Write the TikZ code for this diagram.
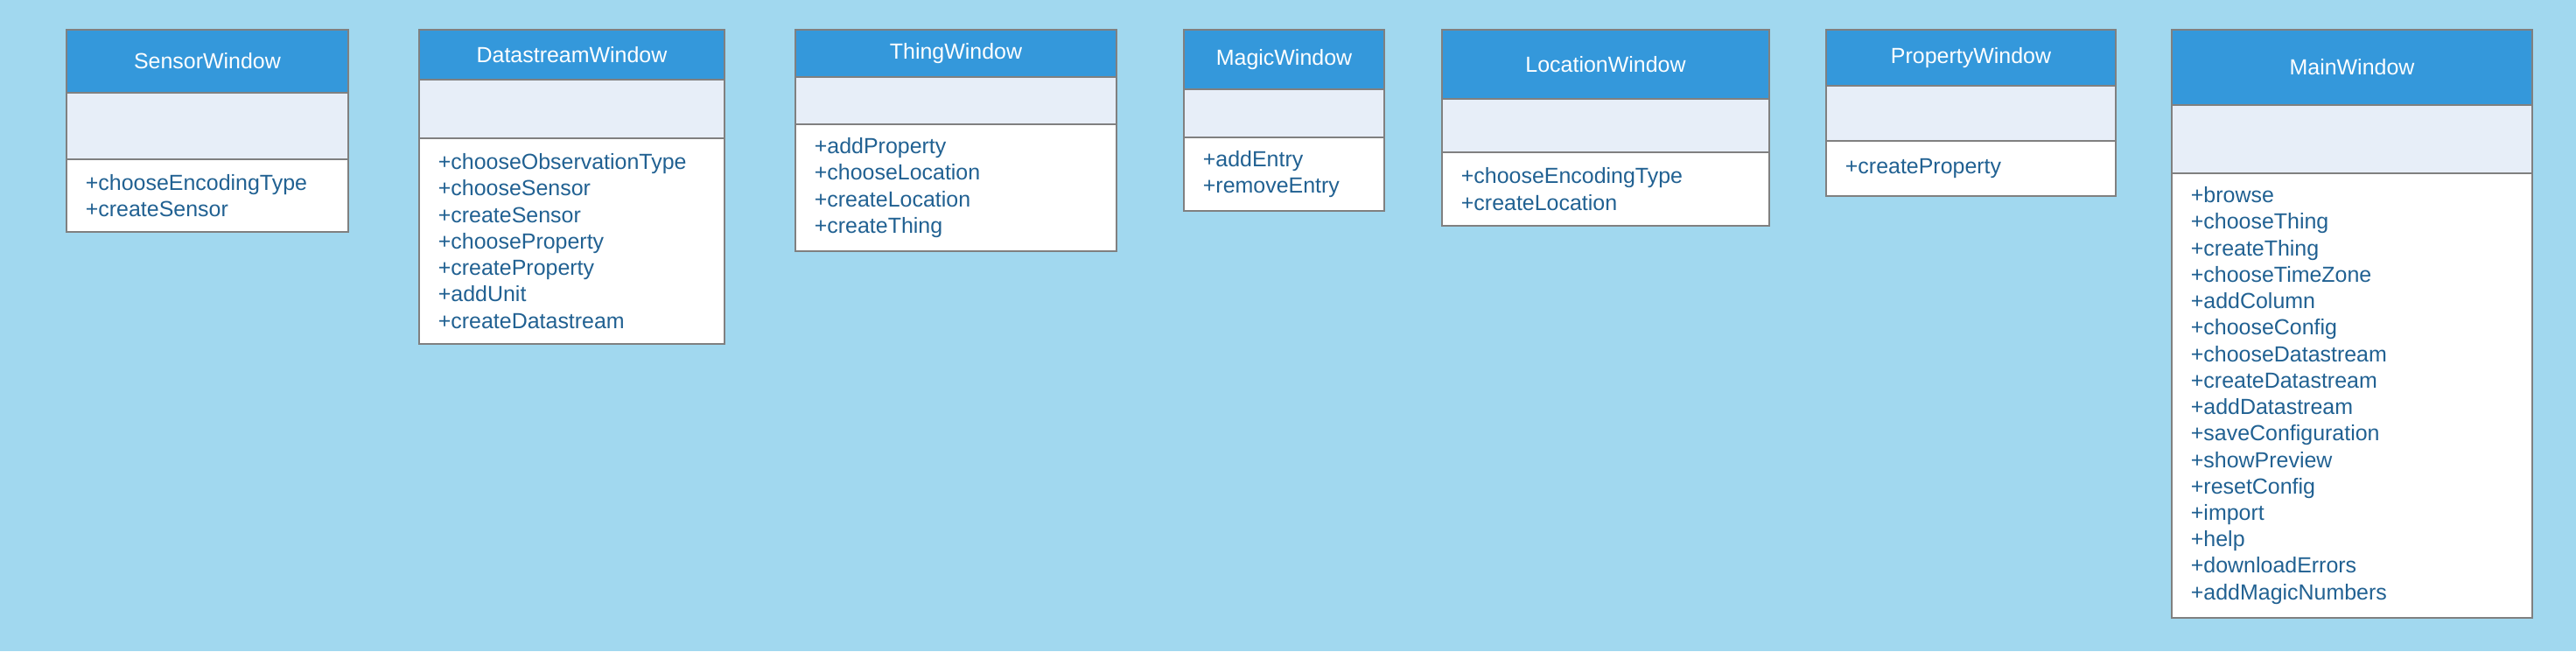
\documentclass[tikz,border=0pt]{standalone}
\usepackage{fontspec}
\setmainfont{Liberation Sans}

\definecolor{bgblue}{RGB}{161,216,239}
\definecolor{headblue}{RGB}{52,152,219}
\definecolor{attrblue}{RGB}{231,238,248}
\definecolor{boxgray}{RGB}{128,128,128}
\definecolor{opsblue}{RGB}{33,97,146}

\begin{document}
\begin{tikzpicture}[
        classhead/.style={draw=boxgray, line width=0.5pt, fill=headblue},
        classattr/.style={draw=boxgray, line width=0.5pt, fill=attrblue},
        classops/.style={draw=boxgray, line width=0.5pt, fill=white},
        classname/.style={text=white, font=\fontsize{7.1}{8.6}\selectfont},
        opslist/.style={anchor=west, align=left, inner sep=0pt, text=opsblue, font=\fontsize{7.1}{8.6}\selectfont}]
        % background
        \fill[bgblue] (0,0) rectangle (29.44,7.44);
        % sensor window
        \draw[classhead] (0.76,6.38) rectangle ++(3.22,0.72) node [midway, classname] (sensorname) {SensorWindow};
        \draw[classattr] (0.76,5.62) rectangle ++(3.22,0.76);
        \draw[classops] (0.76,4.79) rectangle ++(3.22,0.83)
            node [opslist] (sensorops) at (0.97,5.205) {+chooseEncodingType\\+createSensor};
        % datastream window
        \draw[classhead] (4.79,6.53) rectangle ++(3.49,0.57) node [midway, classname] (streamname) {DatastreamWindow};
        \draw[classattr] (4.79,5.86) rectangle ++(3.49,0.67);
        \draw[classops] (4.79,3.51) rectangle ++(3.49,2.35)
            node [opslist] (streamops) at (5.00,4.685) {+chooseObservationType\\+chooseSensor\\+createSensor\\+chooseProperty\\+createProperty\\+addUnit\\+createDatastream};
        % thing window
        \draw[classhead] (9.09,6.56) rectangle ++(3.67,0.54) node [midway, classname] (thingname) {ThingWindow};
        \draw[classattr] (9.09,6.02) rectangle ++(3.67,0.54);
        \draw[classops] (9.09,4.57) rectangle ++(3.67,1.45)
            node [opslist] (thingops) at (9.30,5.295) {+addProperty\\+chooseLocation\\+createLocation\\+createThing};
        % magic window
        \draw[classhead] (13.53,6.42) rectangle ++(2.29,0.68) node [midway, classname] (magicname) {MagicWindow};
        \draw[classattr] (13.53,5.87) rectangle ++(2.29,0.55);
        \draw[classops] (13.53,5.03) rectangle ++(2.29,0.84)
            node [opslist] (magicops) at (13.74,5.45) {+addEntry\\+removeEntry};
        % location window
        \draw[classhead] (16.48,6.31) rectangle ++(3.74,0.79) node [midway, classname] (locname) {LocationWindow};
        \draw[classattr] (16.48,5.70) rectangle ++(3.74,0.61);
        \draw[classops] (16.48,4.86) rectangle ++(3.74,0.84)
            node [opslist] (locops) at (16.69,5.28) {+chooseEncodingType\\+createLocation};
        % property window
        \draw[classhead] (20.87,6.46) rectangle ++(3.31,0.64) node [midway, classname] (propname) {PropertyWindow};
        \draw[classattr] (20.87,5.83) rectangle ++(3.31,0.63);
        \draw[classops] (20.87,5.20) rectangle ++(3.31,0.63)
            node [opslist] (propops) at (21.08,5.515) {+createProperty};
        % main window
        \draw[classhead] (24.82,6.24) rectangle ++(4.12,0.86) node [midway, classname] (mainname) {MainWindow};
        \draw[classattr] (24.82,5.46) rectangle ++(4.12,0.78);
        \draw[classops] (24.82,0.38) rectangle ++(4.12,5.08)
            node [opslist] (mainops) at (25.03,2.92) {+browse\\+chooseThing\\+createThing\\+chooseTimeZone\\+addColumn\\+chooseConfig\\+chooseDatastream\\+createDatastream\\+addDatastream\\+saveConfiguration\\+showPreview\\+resetConfig\\+import\\+help\\+downloadErrors\\+addMagicNumbers};
    \end{tikzpicture}
\end{document}
